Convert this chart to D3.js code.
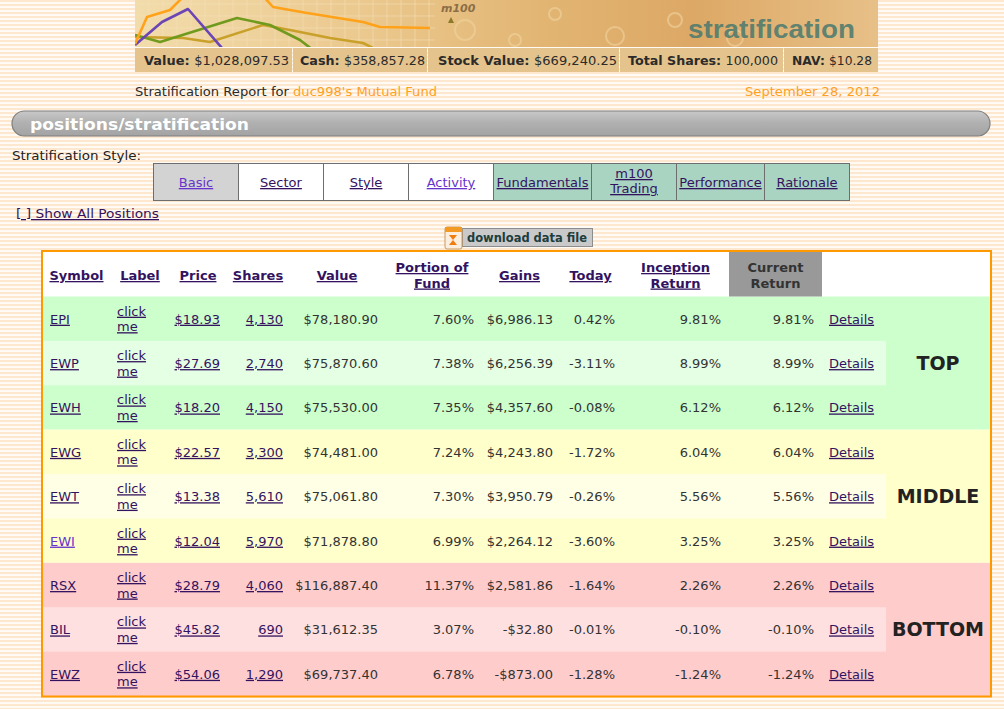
<!DOCTYPE html>
<html><head><meta charset="utf-8">
<script src="https://cdn.jsdelivr.net/npm/d3@7"></script>
<style>html,body{margin:0;padding:0;background:#fff;overflow:hidden}svg{display:block}</style>
</head><body>
<svg id="c" width="1004" height="709"></svg>
<script>
// ---------- data ----------
const symbols   = ["EPI","EWP","EWH","EWG","EWT","EWI","RSX","BIL","EWZ"];
const prices    = [18.93, 27.69, 18.20, 22.57, 13.38, 12.04, 28.79, 45.82, 54.06];
const shares    = [4130, 2740, 4150, 3300, 5610, 5970, 4060, 690, 1290];
const values    = [78180.90, 75870.60, 75530.00, 74481.00, 75061.80, 71878.80, 116887.40, 31612.35, 69737.40];
const portions  = [7.60, 7.38, 7.35, 7.24, 7.30, 6.99, 11.37, 3.07, 6.78];
const gains     = [6986.13, 6256.39, 4357.60, 4243.80, 3950.79, 2264.12, 2581.86, -32.80, -873.00];
const todays    = [0.42, -3.11, -0.08, -1.72, -0.26, -3.60, -1.64, -0.01, -1.28];
const inception = [9.81, 8.99, 6.12, 6.04, 5.56, 3.25, 2.26, -0.10, -1.24];
const current   = [9.81, 8.99, 6.12, 6.04, 5.56, 3.25, 2.26, -0.10, -1.24];
const groups    = ["TOP","MIDDLE","BOTTOM"];
const visited   = ["EWI"];

const summaryLabels = ["Value:","Cash:","Stock Value:","Total Shares:","NAV:"];
const summaryValues = [1028097.53, 358857.28, 669240.25, 100000, 10.28];

const tabs = ["Basic","Sector","Style","Activity","Fundamentals","m100\nTrading","Performance","Rationale"];
const headers = [["Symbol"],["Label"],["Price"],["Shares"],["Value"],["Portion of","Fund"],["Gains"],["Today"],["Inception","Return"],["Current","Return"],[]];

// banner decoration polylines (banner-local coords)
const bannerOrange = [[0,44],[12,17],[35,10],[60,-15],[118,-15],[138,7],[172,13],[228,22],[245,27],[295,28]];
const bannerPurple = [[0,45],[27,22],[53,9],[87,48]];
const bannerGreen  = [[0,35],[25,42],[102,18],[135,25],[165,40],[178,50]];
const bannerGold   = [[0,37],[48,38],[75,42],[128,25],[155,30],[195,38],[228,43],[242,50]];

// ---------- helpers ----------
const loc = d3.formatLocale({decimal:".",thousands:",",grouping:[3],currency:["$",""],minus:"-"});
const money = loc.format("$,.2f");
const intf = loc.format(",d");
const pct = v => loc.format(".2f")(v) + "%";
const FONT = "'DejaVu Sans', Verdana, sans-serif";
const LINK = "#33135f", VLINK = "#6633cc", TXT = "#333";

const svg = d3.select("#c").style("font-family", FONT);
const defs = svg.append("defs");

// striped page background
const pat = defs.append("pattern").attr("id","stripes").attr("patternUnits","userSpaceOnUse")
  .attr("width",8).attr("height",4);
pat.append("rect").attr("width",8).attr("height",4).attr("fill","#fffaf3");
pat.append("rect").attr("width",8).attr("height",2).attr("fill","#fde8cf");
svg.append("rect").attr("width",1004).attr("height",709).attr("fill","url(#stripes)");

function fit(sel, w){ return sel.attr("textLength", w).attr("lengthAdjust","spacingAndGlyphs"); }

// ---------- banner ----------
const bx = d3.scaleLinear().domain([0,743]).range([135,878]);
const by = d3.scaleLinear().domain([0,47]).range([0,47]);
const bg = defs.append("linearGradient").attr("id","bannerGrad");
[["0%","#f2dcab"],["30%","#ebc98f"],["55%","#e2b573"],["75%","#dda865"],["100%","#e7c088"]]
  .forEach(([o,c])=>bg.append("stop").attr("offset",o).attr("stop-color",c));
defs.append("clipPath").attr("id","bclip").append("rect").attr("x",135).attr("y",0).attr("width",743).attr("height",47);
const banner = svg.append("g").attr("clip-path","url(#bclip)");
banner.append("rect").attr("x",135).attr("y",0).attr("width",743).attr("height",47).attr("fill","url(#bannerGrad)");
// faint grid
const gridX = d3.range(0, 300, 14), gridY = d3.range(4, 47, 12);
banner.selectAll(".gx").data(gridX).join("line").attr("x1",d=>bx(d)).attr("x2",d=>bx(d)).attr("y1",0).attr("y2",47)
  .attr("stroke","#f6e2bb").attr("stroke-width",0.8).attr("opacity",0.7);
banner.selectAll(".gy").data(gridY).join("line").attr("x1",bx(0)).attr("x2",bx(300)).attr("y1",d=>by(d)).attr("y2",d=>by(d))
  .attr("stroke","#f6e2bb").attr("stroke-width",0.8).attr("opacity",0.7);
// faint decorative circles / traces on right
const deco = [[330,30,10],[420,14,6],[480,36,9],[540,20,7],[600,38,8],[380,40,6]];
banner.selectAll(".dc").data(deco).join("circle").attr("cx",d=>bx(d[0])).attr("cy",d=>by(d[1])).attr("r",d=>d[2])
  .attr("fill","none").attr("stroke","#f0d3a0").attr("stroke-width",2).attr("opacity",0.6);
const bline = d3.line().x(d=>bx(d[0])).y(d=>by(d[1]));
[[bannerGold,"#c9a12a"],[bannerGreen,"#6f9a1e"],[bannerPurple,"#6b45b5"],[bannerOrange,"#ffa21a"]].forEach(([d,c])=>{
  banner.append("path").attr("d",bline(d)).attr("fill","none").attr("stroke",c).attr("stroke-width",2.6).attr("stroke-linejoin","round");
});
banner.append("text").attr("x",bx(306)).attr("y",by(12)).attr("font-size",11).attr("font-style","italic").attr("font-weight","bold")
  .attr("fill","#8c6e45").text("m100");
banner.append("path").attr("d",`M${bx(313)},${by(23)} l3,-6 l3,6 z`).attr("fill","#8a7a2a");
fit(banner.append("text").attr("x",bx(553)).attr("y",by(38)).attr("font-size",25).attr("fill","#4e7b6e")
  .style("font-family","'Liberation Sans', Arial, sans-serif").style("font-weight","bold").attr("fill-opacity",0.9)
  .text("stratification"), 167);

// ---------- summary bar ----------
const sumX = [135, 292, 427, 619, 783, 878];
const sumTextX = [144, 300, 438, 628, 792];
const sumTextW = [145, 125, 179, 150, 80];
const sumFmt = [money, money, money, intf, money];
const sg = svg.append("g");
sg.selectAll("rect").data(summaryLabels).join("rect")
  .attr("x",(d,i)=>sumX[i]+(i?1:0)).attr("y",48).attr("width",(d,i)=>sumX[i+1]-sumX[i]-(i?1:0)).attr("height",24)
  .attr("fill","#e5c38d");
sg.selectAll("text").data(summaryLabels).join("text")
  .attr("x",(d,i)=>sumTextX[i]).attr("y",65).attr("font-size",13).attr("fill","#2b2b2b")
  .each(function(d,i){
    const t = d3.select(this);
    t.append("tspan").attr("font-weight","bold").text(d+" ");
    t.append("tspan").text(sumFmt[i](summaryValues[i]));
    fit(t, sumTextW[i]);
  });

// report line
const rep = svg.append("text").attr("x",135).attr("y",96).attr("font-size",13).attr("fill","#2b2b2b");
rep.append("tspan").text("Stratification Report for ");
rep.append("tspan").attr("fill","#ffa01f").text("duc998's Mutual Fund");
fit(rep, 302);
fit(svg.append("text").attr("x",880).attr("y",96).attr("text-anchor","end").attr("font-size",13).attr("fill","#ffa01f")
  .text("September 28, 2012"), 135);

// ---------- section pill ----------
const pg = defs.append("linearGradient").attr("id","pillGrad").attr("x1",0).attr("x2",0).attr("y1",0).attr("y2",1);
[["0%","#c9c9c9"],["45%","#b1b1b1"],["100%","#a3a3a3"]].forEach(([o,c])=>pg.append("stop").attr("offset",o).attr("stop-color",c));
svg.append("rect").attr("x",12).attr("y",111).attr("width",978).attr("height",25).attr("rx",12.5)
  .attr("fill","url(#pillGrad)").attr("stroke","#7f7f7f").attr("stroke-width",1.2);
fit(svg.append("text").attr("x",30).attr("y",130).attr("font-size",15).attr("font-weight","bold").attr("fill","#fff")
  .text("positions/stratification"), 219);

fit(svg.append("text").attr("x",12).attr("y",160).attr("font-size",13).attr("fill","#222").text("Stratification Style:"), 129);

// ---------- tabs ----------
const tabEdges = [153,238,323,408,493,591,676,764,849];
const tabFill = ["#d3d3d3","#fff","#fff","#fff","#a9d4c2","#a9d4c2","#a9d4c2","#a9d4c2"];
const tabVisited = ["Basic","Activity"];
const tg = svg.append("g");
tg.selectAll("rect").data(tabs).join("rect")
  .attr("x",(d,i)=>tabEdges[i]+0.5).attr("y",163.5).attr("width",(d,i)=>tabEdges[i+1]-tabEdges[i]).attr("height",37)
  .attr("fill",(d,i)=>tabFill[i]).attr("stroke","#6e6e6e").attr("stroke-width",1);
tg.selectAll("text").data(tabs).join("text")
  .attr("text-anchor","middle").attr("font-size",13)
  .attr("fill",d=>tabVisited.includes(d)?VLINK:LINK).style("text-decoration","underline")
  .each(function(d,i){
    const lines = d.split("\n"), cx = (tabEdges[i]+tabEdges[i+1])/2 + 0.5;
    const t = d3.select(this);
    lines.forEach((l,j)=>{
      t.append("tspan").attr("x",cx).attr("y", lines.length>1 ? 178+j*15 : 187).text(l);
    });
  });

fit(svg.append("text").attr("x",16).attr("y",218).attr("font-size",13).attr("fill",LINK).style("text-decoration","underline")
  .text("[ ] Show All Positions"), 143);

// download button
svg.append("rect").attr("x",462.5).attr("y",228.5).attr("width",130).attr("height",18).attr("fill","#c9c9c9").attr("stroke","#8d8d8d");
fit(svg.append("text").attr("x",467).attr("y",242).attr("font-size",12).attr("font-weight","bold").attr("fill","#1d3d3d")
  .text("download data file"), 120);
const ic = svg.append("g");
ic.append("rect").attr("x",445).attr("y",227).attr("width",17).attr("height",22).attr("rx",2).attr("fill","#fbeede").attr("stroke","#c89a60");
ic.append("rect").attr("x",445).attr("y",227).attr("width",17).attr("height",5).attr("fill","#f39a25");
ic.append("path").attr("d","M449,235 L457,235 L453,240 L457,245 L449,245 L453,240 Z").attr("fill","#f07d10");

// ---------- table ----------
const cols = [
  {x0:43,  x1:110, align:"start", pad:7},
  {x0:110, x1:170, align:"start", pad:7},
  {x0:170, x1:226, align:"end",   pad:6},
  {x0:226, x1:290, align:"end",   pad:7},
  {x0:290, x1:384, align:"end",   pad:6},
  {x0:384, x1:480, align:"end",   pad:6},
  {x0:480, x1:559, align:"end",   pad:6},
  {x0:559, x1:622, align:"end",   pad:7},
  {x0:622, x1:729, align:"end",   pad:8},
  {x0:729, x1:822, align:"end",   pad:8},
  {x0:822, x1:886, align:"start", pad:7}
];
const tableLeft = 43, tableRight = 990, headTop = 252, headBottom = 296.5, tableBottom = 696;
const y = d3.scaleBand().domain(d3.range(symbols.length)).range([headBottom, tableBottom]);
const gy = d3.scaleBand().domain(groups).range([headBottom, tableBottom]);
const groupFill = {TOP:"#ccffcc", MIDDLE:"#ffffcc", BOTTOM:"#ffcccc"};
const altFill = {TOP:"#e5ffe5", MIDDLE:"#ffffe6", BOTTOM:"#ffe0e0"};
const groupOf = i => groups[Math.floor(i / 3)];

const tbl = svg.append("g");
tbl.append("rect").attr("x",tableLeft).attr("y",headTop).attr("width",tableRight-tableLeft).attr("height",tableBottom-headTop).attr("fill","#fff");
// group backgrounds
tbl.selectAll(".grp").data(groups).join("rect")
  .attr("x",tableLeft).attr("y",d=>gy(d)).attr("width",tableRight-tableLeft).attr("height",gy.bandwidth())
  .attr("fill",d=>groupFill[d]);
// alternate (middle) rows
tbl.selectAll(".alt").data(d3.range(symbols.length).filter(i=>i%3===1)).join("rect")
  .attr("x",tableLeft).attr("y",i=>y(i)).attr("width",886-tableLeft).attr("height",y.bandwidth())
  .attr("fill",i=>altFill[groupOf(i)]);
// current return header cell
tbl.append("rect").attr("x",cols[9].x0).attr("y",headTop).attr("width",cols[9].x1-cols[9].x0).attr("height",headBottom-headTop).attr("fill","#999");

// headers
tbl.selectAll(".hdr").data(headers).join("text")
  .attr("text-anchor","middle").attr("font-size",13).attr("font-weight","bold")
  .attr("fill",(d,i)=>i===9?"#333":LINK).style("text-decoration",(d,i)=>i===9?"none":"underline")
  .each(function(d,i){
    const cx = (cols[i].x0+cols[i].x1)/2, t = d3.select(this);
    d.forEach((l,j)=>t.append("tspan").attr("x",cx).attr("y", d.length>1 ? 272+j*15.5 : 280).text(l));
  });

// cells
const rows = symbols.map((s,i)=>({i, cells:[
  {t:s, link:true, visited:visited.includes(s)},
  {t:"click\nme", link:true},
  {t:money(prices[i]), link:true},
  {t:intf(shares[i]), link:true},
  {t:money(values[i])},
  {t:pct(portions[i])},
  {t:money(gains[i])},
  {t:pct(todays[i])},
  {t:pct(inception[i])},
  {t:pct(current[i])},
  {t:"Details", link:true}
]}));
const rg = tbl.selectAll(".row").data(rows).join("g");
rg.each(function(r){
  const g = d3.select(this), cy = y(r.i) + y.bandwidth()/2;
  r.cells.forEach((c,k)=>{
    const col = cols[k];
    const x = col.align==="end" ? col.x1 - col.pad : col.x0 + col.pad;
    const t = g.append("text").attr("x",x).attr("text-anchor",col.align).attr("font-size",13)
      .attr("fill", c.link ? (c.visited?VLINK:LINK) : TXT)
      .style("text-decoration", c.link ? "underline" : "none");
    const lines = c.t.split("\n");
    if (lines.length>1) lines.forEach((l,j)=>t.append("tspan").attr("x",x).attr("y",cy-3+j*15.5).text(l));
    else t.attr("y",cy+5).text(c.t);
  });
});
// group labels
tbl.selectAll(".glab").data(groups).join("text")
  .attr("x",938).attr("y",d=>gy(d)+gy.bandwidth()/2+7).attr("text-anchor","middle")
  .attr("font-size",19).attr("font-weight","bold").attr("fill","#222").text(d=>d);

// orange frame
svg.append("rect").attr("x",42).attr("y",251).attr("width",949).attr("height",445.5)
  .attr("fill","none").attr("stroke","#ff9900").attr("stroke-width",2);
</script>
</body></html>
